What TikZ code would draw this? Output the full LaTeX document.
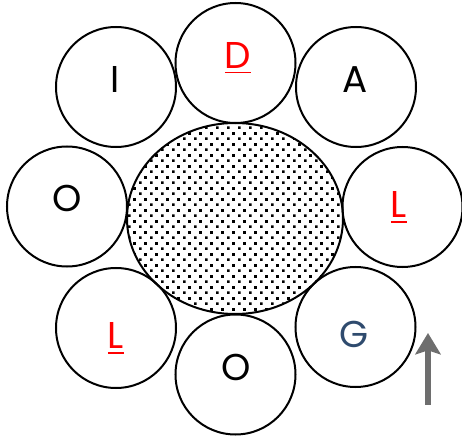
\documentclass[tikz,border=0pt]{standalone}
\usepackage{fontspec}
\setmainfont{Poppins}
\usetikzlibrary{arrows.meta,patterns}

\definecolor{slateblue}{RGB}{47,75,110}
\definecolor{arrowgray}{RGB}{110,110,110}

% staggered square dots, as in the filled core
\pgfdeclarepatternformonly{coredots}{\pgfpointorigin}{\pgfqpoint{8pt}{8.4pt}}{\pgfqpoint{8pt}{8.4pt}}{%
  \pgfpathrectangle{\pgfqpoint{0pt}{0pt}}{\pgfqpoint{2.1pt}{2.1pt}}%
  \pgfpathrectangle{\pgfqpoint{4pt}{4.2pt}}{\pgfqpoint{2.1pt}{2.1pt}}%
  \pgfusepath{fill}}

\newcommand{\redline}[1]{\setbox0\hbox{#1}\rlap{\rule[-3.4pt]{\wd0}{0.9pt}}\box0}

\begin{document}
\begin{tikzpicture}[x=0.75pt, y=-0.75pt,
  ring/.style={draw, circle, line width=1.5pt, minimum size=90pt, inner sep=0pt},
  letter/.style={anchor=base, inner sep=0pt, font=\fontsize{28}{30}\selectfont},
  uparrow/.style={line width=3.8pt, arrowgray, -{Stealth[length=16pt, width=19pt, inset=3pt]}}]

  \useasboundingbox (0,0) rectangle (462,439);

  % === Core ===
  \draw[line width=1.5pt, pattern=coredots] (235,218.5) ellipse [x radius=108, y radius=95.5];

  % === Ring of letters ===
  \node[ring] (cD) at (235.5,63) {};
  \node[ring] (cA) at (356,87) {};
  \node[ring] (cLr) at (402.5,207) {};
  \node[ring] (cG) at (355.5,327) {};
  \node[ring] (cOb) at (235.5,374.5) {};
  \node[ring] (cLl) at (116,328) {};
  \node[ring] (cOl) at (67,206.5) {};
  \node[ring] (cI) at (116,87) {};

  % Letters
  \node[letter, red] (tD) at (238,68.5) {\redline{D}};
  \node[letter] (tA) at (355,93) {A};
  \node[letter, red] (tLr) at (399,218) {\redline{L}};
  \node[letter, slateblue] (tG) at (354,348) {G};
  \node[letter] (tOb) at (236,380) {O};
  \node[letter, red] (tLl) at (116,349) {\redline{L}};
  \node[letter] (tOl) at (67,212) {O};
  \node[letter] (tI) at (115,93) {I};

  % Arrow
  \coordinate (arrowtail) at (428,405);
  \coordinate (arrowtip) at (428,333);
  \draw[uparrow] (arrowtail) -- (arrowtip);

\end{tikzpicture}
\end{document}
